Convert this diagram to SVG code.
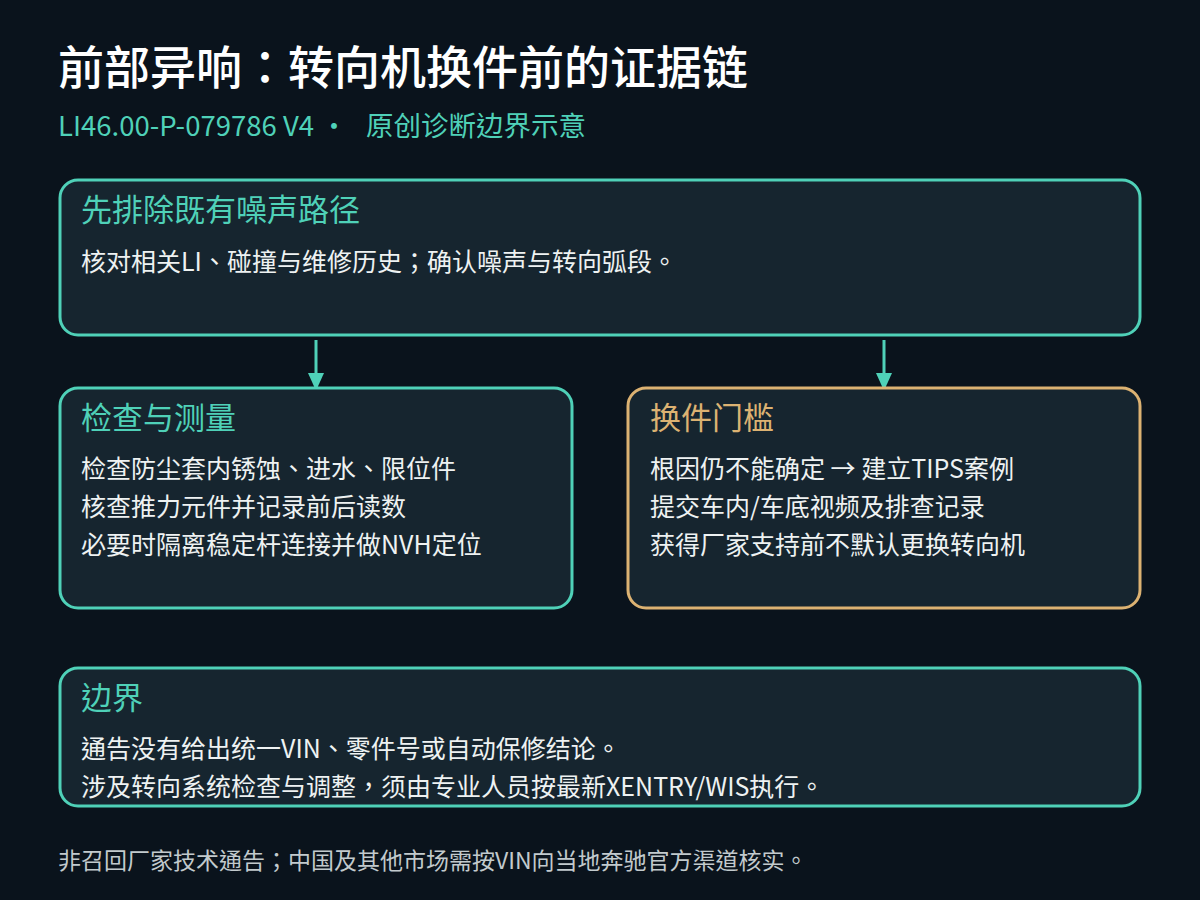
<svg xmlns="http://www.w3.org/2000/svg" width="1200" height="900" viewBox="0 0 1200 900">
<defs>
<style>
text{font-family:"Noto Sans CJK TC","Noto Sans CJK SC",sans-serif}
.title{font-size:46px;fill:#ffffff;font-weight:500}
.sub{font-size:27.5px;fill:#4fd1b8}
.box{fill:#16252f;stroke:#4fd1b8;stroke-width:3}
.gold{stroke:#dcb272}
.h{font-size:31px;fill:#4fd1b8}
.hg{fill:#dcb272}
.b{font-size:25px;fill:#eef2f2}
.foot{font-size:23px;fill:#c2cacd}
.con{stroke:#4fd1b8;stroke-width:3;fill:none}
</style>
<marker id="arr" viewBox="0 0 10 10" refX="9" refY="5" markerWidth="18" markerHeight="18" markerUnits="userSpaceOnUse" orient="auto"><path d="M0,0.5 L10,5 L0,9.5 Z" fill="#4fd1b8"/></marker>
</defs>
<rect width="1200" height="900" fill="#0a131c"/>
<g id="header">
<text class="title" x="58" y="84">前部异响：转向机换件前的证据链</text>
<text class="sub" x="58" y="136">LI46.00-P-079786 V4 ·</text>
<text class="sub" x="366" y="136">原创诊断边界示意</text>
</g>
<g id="connectors">
<line class="con" x1="316" y1="340" x2="316" y2="389" marker-end="url(#arr)"/>
<line class="con" x1="884" y1="340" x2="884" y2="389" marker-end="url(#arr)"/>
</g>
<g id="n1">
<rect class="box" x="60" y="180" width="1080" height="155" rx="18"/>
<text class="h" x="81" y="221">先排除既有噪声路径</text>
<text class="b" x="81" y="271">核对相关LI、碰撞与维修历史；确认噪声与转向弧段。</text>
</g>
<g id="n2">
<rect class="box" x="60" y="388" width="512" height="220" rx="18"/>
<text class="h" x="81" y="429">检查与测量</text>
<text class="b" x="81" y="478">检查防尘套内锈蚀、进水、限位件</text>
<text class="b" x="81" y="516">核查推力元件并记录前后读数</text>
<text class="b" x="81" y="554">必要时隔离稳定杆连接并做NVH定位</text>
</g>
<g id="n3">
<rect class="box gold" x="628" y="388" width="512" height="220" rx="18"/>
<text class="h hg" x="650" y="429">换件门槛</text>
<text class="b" x="650" y="478">根因仍不能确定 → 建立TIPS案例</text>
<text class="b" x="650" y="516">提交车内/车底视频及排查记录</text>
<text class="b" x="650" y="554">获得厂家支持前不默认更换转向机</text>
</g>
<g id="n4">
<rect class="box" x="60" y="668" width="1080" height="138" rx="18"/>
<text class="h" x="81" y="709">边界</text>
<text class="b" x="81" y="758">通告没有给出统一VIN、零件号或自动保修结论。</text>
<text class="b" x="81" y="796">涉及转向系统检查与调整，须由专业人员按最新XENTRY/WIS执行。</text>
</g>
<g id="footer">
<text class="foot" x="58" y="869">非召回厂家技术通告；中国及其他市场需按VIN向当地奔驰官方渠道核实。</text>
</g>
</svg>
